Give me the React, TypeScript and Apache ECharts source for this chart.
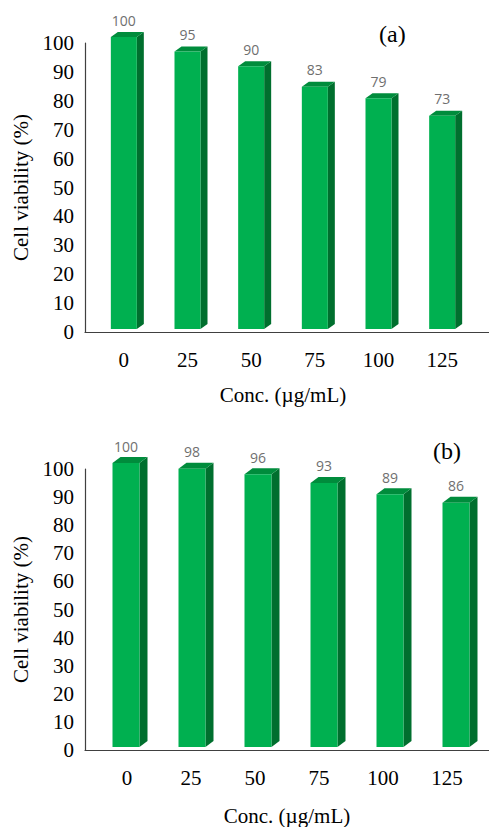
import React, { useEffect, useRef } from "react";
import * as echarts from "echarts";

const categories = ["0", "25", "50", "75", "100", "125"];
const viabilityA = [100, 95, 90, 83, 79, 73];
const viabilityB = [100, 98, 96, 93, 89, 86];
const panelLabels = ["(a)", "(b)"];
const xTitle = "Conc. (µg/mL)";
const yTitle = "Cell viability (%)";

const SERIF = "'Liberation Serif', 'Times New Roman', serif";
const SANS = "'Open Sans', 'Noto Sans', sans-serif";

function bar3d(bw: number, dx: number, dy: number) {
  return (params: any, api: any) => {
    const idx = api.value(0);
    const v = api.value(1);
    const top = api.coord([idx, v]);
    const base = api.coord([idx, 0]);
    const x0 = top[0] - bw / 2;
    const x1 = top[0] + bw / 2;
    const yt = top[1];
    const yb = base[1];
    return {
      type: "group",
      children: [
        {
          type: "polygon",
          shape: { points: [[x1, yt], [x1 + dx, yt - dy], [x1 + dx, yb - dy], [x1, yb]] },
          style: { fill: "#006F2E" },
        },
        {
          type: "polygon",
          shape: { points: [[x0, yt], [x0 + dx, yt - dy], [x1 + dx, yt - dy], [x1, yt]] },
          style: { fill: "#008C3C" },
        },
        {
          type: "rect",
          shape: { x: x0, y: yt, width: bw, height: yb - yt },
          style: { fill: "#00B050" },
        },
        {
          type: "text",
          style: {
            text: String(v),
            x: top[0],
            y: yt - 17,
            align: "center",
            verticalAlign: "middle",
            fill: "#6f6f6f",
            font: `14px ${SANS}`,
          },
        },
      ],
    };
  };
}

export default function App() {
  const ref = useRef<HTMLDivElement>(null);
  useEffect(() => {
    document.body.style.margin = "0";
    const chart = echarts.init(ref.current!, null, { renderer: "svg" });
    const lineStyle = { color: "#404040", width: 1.2 };
    const hiddenAxis = {
      show: false,
    };
    const option: any = {
      animation: false,
      backgroundColor: "#ffffff",
      title: [
        {
          text: panelLabels[0],
          left: 374,
          top: 17,
          textStyle: { fontFamily: SERIF, fontSize: 24, fontWeight: "normal", color: "#000" },
        },
        {
          text: panelLabels[1],
          left: 428,
          top: 434,
          textStyle: { fontFamily: SERIF, fontSize: 24, fontWeight: "normal", color: "#000" },
        },
      ],
      grid: [
        { left: 85, top: 43, width: 404, height: 289 },
        { left: 92, top: 37, width: 382, height: 292 },
        { left: 85, top: 469, width: 404, height: 281 },
        { left: 93, top: 463, width: 400, height: 284 },
        { left: 95, top: 469, width: 384, height: 287 },
      ],
      xAxis: [
        {
          gridIndex: 0,
          type: "value",
          min: 0,
          max: 1,
          axisLine: { show: true, lineStyle },
          axisTick: { show: false },
          axisLabel: { show: false },
          splitLine: { show: false },
        },
        {
          gridIndex: 1,
          type: "category",
          data: categories,
          axisLine: { show: false },
          axisTick: { show: false },
          axisLabel: { fontFamily: SERIF, fontSize: 21, color: "#000", margin: 20 },
          name: xTitle,
          nameLocation: "middle",
          nameGap: 55,
          nameTextStyle: { fontFamily: SERIF, fontSize: 21, color: "#000" },
        },
        {
          gridIndex: 2,
          type: "value",
          min: 0,
          max: 1,
          offset: 6,
          axisLine: { show: true, lineStyle },
          axisTick: { show: false },
          axisLabel: { show: false },
          splitLine: { show: false },
        },
        { gridIndex: 3, type: "category", data: categories, ...hiddenAxis },
        {
          gridIndex: 4,
          type: "category",
          data: categories,
          axisLine: { show: false },
          axisTick: { show: false },
          axisLabel: { fontFamily: SERIF, fontSize: 21, color: "#000", margin: 16 },
          name: xTitle,
          nameLocation: "middle",
          nameGap: 54,
          nameTextStyle: { fontFamily: SERIF, fontSize: 21, color: "#000" },
        },
      ],
      yAxis: [
        {
          gridIndex: 0,
          type: "value",
          min: 0,
          max: 100,
          interval: 10,
          axisLine: { show: true, lineStyle },
          axisTick: { show: false },
          splitLine: { show: false },
          axisLabel: { fontFamily: SERIF, fontSize: 21, color: "#000", margin: 11 },
          name: yTitle,
          nameLocation: "middle",
          nameGap: 51,
          nameRotate: 90,
          nameTextStyle: { fontFamily: SERIF, fontSize: 21, color: "#000" },
        },
        { gridIndex: 1, type: "value", min: 0, max: 100, ...hiddenAxis },
        {
          gridIndex: 2,
          type: "value",
          min: 0,
          max: 100,
          interval: 10,
          axisLine: { show: true, lineStyle },
          axisTick: { show: false },
          splitLine: { show: false },
          axisLabel: { fontFamily: SERIF, fontSize: 21, color: "#000", margin: 11 },
          name: yTitle,
          nameLocation: "middle",
          nameGap: 52,
          nameRotate: 90,
          nameTextStyle: { fontFamily: SERIF, fontSize: 21, color: "#000" },
        },
        { gridIndex: 3, type: "value", min: 0, max: 100, ...hiddenAxis },
        { gridIndex: 4, type: "value", min: 0, max: 100, ...hiddenAxis },
      ],
      series: [
        {
          type: "custom",
          xAxisIndex: 1,
          yAxisIndex: 1,
          renderItem: bar3d(26, 7, 5),
          data: viabilityA.map((v, i) => [i, v]),
          encode: { x: 0, y: 1 },
        },
        {
          type: "custom",
          xAxisIndex: 3,
          yAxisIndex: 3,
          renderItem: bar3d(27, 8, 6),
          data: viabilityB.map((v, i) => [i, v]),
          encode: { x: 0, y: 1 },
        },
      ],
    };
    chart.setOption(option);
    return () => chart.dispose();
  }, []);
  return (
    <div
      ref={ref}
      style={{ position: "fixed", left: 0, top: 0, width: 489, height: 827, background: "#fff" }}
    />
  );
}
